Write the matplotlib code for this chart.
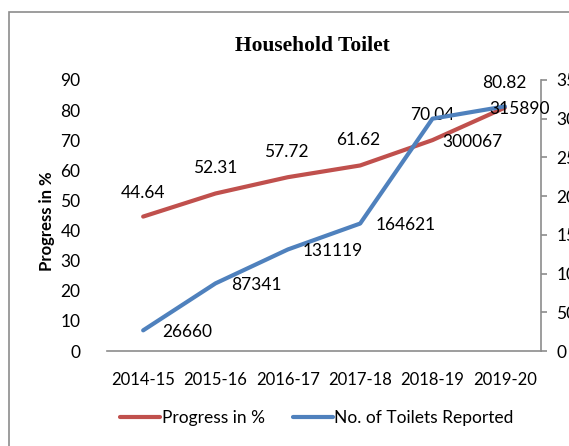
import numpy as np
import matplotlib.pyplot as plt
from matplotlib.patches import Rectangle

years = ['2014-15', '2015-16', '2016-17', '2017-18', '2018-19', '2019-20']
progress = [44.64, 52.31, 57.72, 61.62, 70.04, 80.82]
toilets = [26660, 87341, 131119, 164621, 300067, 315890]

red = '#C0504D'
blue = '#4F81BD'
grey = '#8C8C8C'
plt.rcParams['font.family'] = ['Lato', 'DejaVu Sans']
fs = 12.5

fig = plt.figure(figsize=(5.69, 4.46), dpi=100)
# outer chart frame
fig.patches.append(Rectangle((9 / 569, -0.1), 1.2, 1 - 12 / 446 + 0.1,
                             transform=fig.transFigure, fill=False,
                             edgecolor=grey, linewidth=1.2))

ax = fig.add_axes([107 / 569, 1 - 351 / 446, 434 / 569, 271 / 446])
ax2 = ax.twinx()
x = np.arange(len(years))

ax.plot(x, progress, color=red, linewidth=3, solid_joinstyle='round',
        solid_capstyle='round', label='Progress in %', zorder=3)
ax2.plot(x, toilets, color=blue, linewidth=3, solid_joinstyle='round',
         solid_capstyle='round', label='No. of Toilets Reported', zorder=3)

ax.set_xlim(-0.5, len(years) - 0.5)
ax.set_ylim(0, 90)
ax.set_yticks(range(0, 91, 10))
ax2.set_ylim(0, 350000)
ax2.set_yticks(range(0, 350001, 50000))

ax.set_xticks(x)
ax.set_xticklabels(years)

for a in (ax, ax2):
    for s in ('top', 'left'):
        a.spines[s].set_visible(False)
    a.spines['bottom'].set_color(grey)
    a.spines['right'].set_color(grey)
    a.spines['bottom'].set_linewidth(1.2)
    a.spines['right'].set_linewidth(1.2)
ax.spines['right'].set_visible(False)
ax2.spines['bottom'].set_visible(False)

ax.tick_params(axis='y', length=0, pad=19, labelsize=fs)
ax.tick_params(axis='x', length=0, pad=15, labelsize=12)
ax2.tick_params(axis='y', length=4, width=1.2, color=grey, pad=7, labelsize=fs)

# data labels (offsets in pixels)
red_off = [(0, 24), (0, 25), (-2, 25), (-2, 25), (0, 25), (-1, 25)]
blue_off = [(44, -2), (41, -2), (45, -2), (46, -1), (40, -23), (15, -3)]
for i, v in enumerate(progress):
    ax.annotate(f'{v:.2f}', (x[i], v), xytext=red_off[i], textcoords='offset pixels',
                ha='center', va='center', fontsize=fs, zorder=5)
for i, v in enumerate(toilets):
    ax2.annotate(f'{v}', (x[i], v), xytext=blue_off[i], textcoords='offset pixels',
                 ha='center', va='center', fontsize=fs, zorder=5)

fig.text(312 / 569, 1 - 46 / 446, 'Household Toilet', ha='center', va='center',
         fontsize=15.5, fontweight='bold', family='Liberation Serif')
fig.text(47 / 569, 1 - 221 / 446, 'Progress in %', ha='center', va='center',
         rotation=90, fontsize=12, fontweight='bold')

h1, l1 = ax.get_legend_handles_labels()
h2, l2 = ax2.get_legend_handles_labels()
fig.legend(h1 + h2, l1 + l2, loc='center', bbox_to_anchor=(317 / 569, 1 - 418 / 446),
           ncol=2, frameon=False, handlelength=2.3, handletextpad=0.1,
           columnspacing=1.6, fontsize=fs)

fig.savefig('out.png', dpi=100)
